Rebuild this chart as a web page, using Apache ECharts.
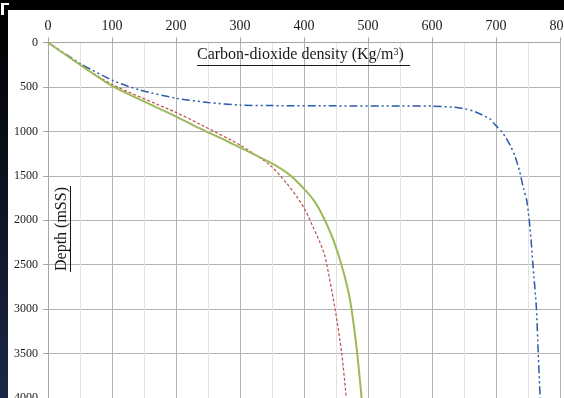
<!DOCTYPE html>
<html>
<head>
<meta charset="utf-8">
<script src="https://cdn.jsdelivr.net/npm/echarts@6/dist/echarts.min.js"></script>
<style>
  html, body { margin: 0; padding: 0; background: #000; }
  #chart { width: 564px; height: 398px; }
</style>
</head>
<body>
<div id="chart"></div>
<script>
// CO2 density vs depth
var xTicks = [0, 100, 200, 300, 400, 500, 600, 700, 800];
var yTicks = [0, 500, 1000, 1500, 2000, 2500, 3000, 3500, 4000];

var blueDensity = [0, 50, 102, 144, 201, 250, 300, 350, 450, 550, 600, 633, 652, 667, 691, 698, 711, 722, 730, 737, 743, 748, 753, 758, 763, 766, 769];
var blueDepth   = [0, 234, 430, 535, 628, 675, 704, 710, 713, 715, 716, 728, 747, 779, 862, 921, 1023, 1154, 1286, 1455, 1642, 1774, 2074, 2525, 2975, 3500, 4000];

var redDensity = [0, 50, 102, 201, 237, 300, 347, 373, 389, 402, 414, 425, 433, 448, 459, 466];
var redDepth   = [0, 250, 479, 790, 918, 1154, 1380, 1586, 1736, 1886, 2074, 2250, 2412, 2975, 3500, 4000];

var greenDensity = [0, 66, 102, 201, 237, 284, 347, 378, 402, 417, 430, 446, 461, 472, 482, 490];
var greenDepth   = [0, 329, 497, 836, 967, 1125, 1350, 1492, 1661, 1793, 1960, 2224, 2562, 2900, 3425, 4000];

function pairs(xs, ys) {
  return xs.map(function (x, i) { return [x, ys[i]]; });
}

var serif = "Liberation Serif";
var myChart = echarts.init(document.getElementById("chart"));

myChart.setOption({
  backgroundColor: "#000",
  animation: false,
  graphic: [
    {
      type: "rect", z: -20, silent: true,
      shape: { x: 0, y: 10, width: 8, height: 388 },
      style: {
        fill: new echarts.graphic.LinearGradient(0, 0, 0, 1, [
          { offset: 0, color: "#000000" },
          { offset: 1, color: "#1b2746" }
        ])
      }
    },
    { type: "rect", z: -20, silent: true, shape: { x: 8, y: 10, width: 556, height: 388 }, style: { fill: "#fff" } },
    { type: "rect", z: -20, silent: true, shape: { x: 1, y: 3, width: 8, height: 2 }, style: { fill: "#fff" } },
    { type: "rect", z: -20, silent: true, shape: { x: 1, y: 3, width: 3, height: 12 }, style: { fill: "#fff" } },
    // title
    {
      type: "text", z: 10, left: 197, top: 47,
      style: {
        text: "{a|Carbon-dioxide density (Kg/m}{s|3}{a|)}",
        rich: {
          a: { fontFamily: serif, fontSize: 16, fill: "#1a1a1a" },
          s: { fontFamily: serif, fontSize: 10, fill: "#1a1a1a", verticalAlign: "top", padding: [0, 0, 6, 0] }
        }
      }
    },
    { type: "line", z: 10, shape: { x1: 197, y1: 65.5, x2: 410, y2: 65.5 }, style: { stroke: "#1a1a1a", lineWidth: 1 } },
    // y name
    {
      type: "text", z: 10, x: 62, y: 229, rotation: Math.PI / 2,
      style: { text: "Depth (mSS)", fontFamily: serif, fontSize: 16, fill: "#1a1a1a", align: "center", verticalAlign: "middle" }
    },
    { type: "line", z: 10, shape: { x1: 70.5, y1: 186, x2: 70.5, y2: 272 }, style: { stroke: "#1a1a1a", lineWidth: 1 } }
  ],
  grid: { left: 48, right: 4, top: 42.5, bottom: 0, containLabel: false, outerBoundsMode: "none" },
  xAxis: {
    type: "value",
    position: "top",
    min: 0,
    max: 800,
    interval: 100,
    axisLine: { show: true, lineStyle: { color: "#a6a6a6" } },
    axisTick: { show: true, length: 5, lineStyle: { color: "#a6a6a6" } },
    axisLabel: { margin: 9, fontFamily: serif, fontSize: 14, color: "#1a1a1a", hideOverlap: false, formatter: function (v) { return String(v); } },
    splitLine: { show: true, lineStyle: { color: "#b4b4b4" } },
    minorTick: { show: false, splitNumber: 2 },
    minorSplitLine: { show: true, lineStyle: { color: "#e2e2e2" } }
  },
  yAxis: {
    type: "value",
    inverse: true,
    min: 0,
    max: 4000,
    interval: 500,
    axisLine: { show: true, lineStyle: { color: "#a6a6a6" } },
    axisTick: { show: true, length: 5, lineStyle: { color: "#a6a6a6" } },
    axisLabel: { margin: 10, fontFamily: serif, fontSize: 12, color: "#1a1a1a", hideOverlap: false, formatter: function (v) { return String(v); } },
    splitLine: { show: true, lineStyle: { color: "#b4b4b4" } }
  },
  series: [
    {
      name: "blue",
      type: "line",
      smooth: 0.25,
      showSymbol: false,
      data: pairs(blueDensity, blueDepth),
      lineStyle: { color: "#2a5aa8", width: 1.5, type: [8, 3, 2, 3, 2, 3] }
    },
    {
      name: "red",
      type: "line",
      smooth: 0.25,
      showSymbol: false,
      data: pairs(redDensity, redDepth),
      lineStyle: { color: "#c0504d", width: 1.2, type: [3, 2] }
    },
    {
      name: "green",
      type: "line",
      smooth: 0.25,
      showSymbol: false,
      data: pairs(greenDensity, greenDepth),
      lineStyle: { color: "#9bbb59", width: 2, type: "solid" }
    }
  ]
});
</script>
</body>
</html>
